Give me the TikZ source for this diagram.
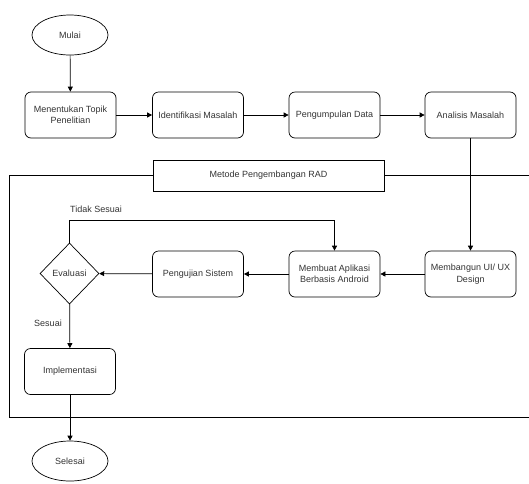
\documentclass[tikz,border=0pt]{standalone}
\usepackage{fontspec}
\setmainfont{Liberation Sans}
\usetikzlibrary{shapes.geometric, arrows.meta}
\definecolor{teks}{HTML}{333333}
\tikzstyle{proses}=[rectangle, draw, rounded corners=6pt, minimum width=91pt, minimum height=46pt, align=center, text=teks, font=\fontsize{9}{11.5}\selectfont]
\tikzstyle{terminal}=[ellipse, draw, minimum width=76pt, minimum height=40pt, text=teks, font=\fontsize{9}{11.5}\selectfont]
\tikzstyle{keputusan}=[diamond, draw, minimum width=59pt, minimum height=61pt, inner sep=0pt, text=teks, font=\fontsize{9}{11.5}\selectfont]
\tikzstyle{ket}=[text=teks, font=\fontsize{9}{11.5}\selectfont]
\tikzstyle{panah}=[-{Triangle[length=5pt,width=5pt]}]
\newcommand{\proses}{\node[proses]}

\begin{document}
\begin{tikzpicture}[x=1pt, y=-1pt, line width=0.7pt]
\useasboundingbox (0,0) rectangle (529,483);
% baris atas
\node[terminal] (mulai) at (70,35) {Mulai};
\proses (topik) at (70.5,115) {Menentukan Topik\\Penelitian};
\proses (identifikasi) at (198,115) {Identifikasi Masalah};
\proses (pengumpulan) at (334.5,115) {Pengumpulan Data};
\proses (analisis) at (470.5,115) {Analisis Masalah};
% bingkai RAD
\node[draw, minimum width=231pt, minimum height=31pt, inner sep=0pt, ket] (rad) at (268.5,175.5) {Metode Pengembangan RAD};
\draw (rad.west) -- (9,175.5) -- (9,417) -- (529,417);
\draw (rad.east) -- (529,175.5);
% baris bawah
\proses (uiux) at (470.5,274) {Membangun UI/ UX\\Design};
\proses (aplikasi) at (334.5,274) {Membuat Aplikasi\\Berbasis Android};
\proses (pengujian) at (198,274) {Pengujian Sistem};
\node[keputusan] (evaluasi) at (69.5,273.5) {Evaluasi};
\proses (implementasi) at (70,371.5) {Implementasi};
\node[terminal] (selesai) at (70,461) {Selesai};
\node[ket] (tidak) at (96,209) {Tidak Sesuai};
\node[ket] (sesuai) at (48,323) {Sesuai};
% panah
\draw[panah] (mulai) -- (topik);
\draw[panah] (topik) -- (identifikasi);
\draw[panah] (identifikasi) -- (pengumpulan);
\draw[panah] (pengumpulan) -- (analisis);
\draw[panah] (analisis) -- (uiux);
\draw[panah] (uiux) -- (aplikasi);
\draw[panah] (aplikasi) -- (pengujian);
\draw[panah] (pengujian) -- (evaluasi);
\draw[panah] (evaluasi.north) -- ++(0,-22) -| (aplikasi.north);
\draw[panah] (evaluasi) -- (implementasi);
\draw[panah] (implementasi) -- (selesai);
\end{tikzpicture}
\end{document}
